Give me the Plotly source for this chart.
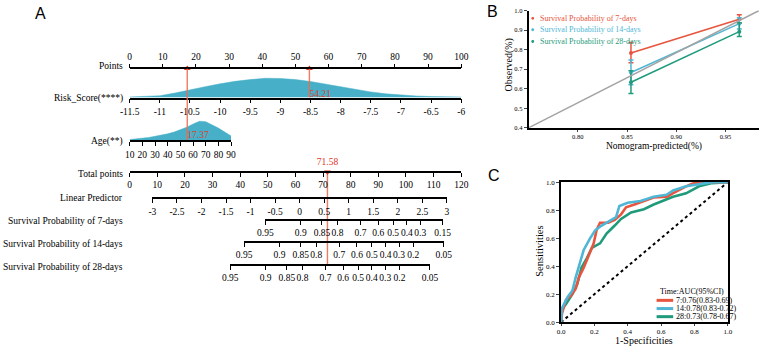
import numpy as np
import plotly.graph_objects as go

W, H = 768, 349
def px(x): return x / W
def py(y): return 1 - y / H

SERIF = "Liberation Serif, Times New Roman, serif"
SANS = "Liberation Sans, Arial, sans-serif"

# ---------------- Panel A: nomogram data ----------------
points_ticks = list(range(0, 101, 10))
risk_ticks = [-11.5, -11, -10.5, -10, -9.5, -9, -8.5, -8, -7.5, -7, -6.5, -6]
risk_grid = [-11.5, -11.25, -11, -10.75, -10.5, -10.25, -10, -9.75, -9.5, -9.25, -9,
             -8.75, -8.5, -8.25, -8, -7.75, -7.5, -7.25, -7, -6.75, -6.5, -6.25, -6]
risk_density = [0.03, 0.05, 0.09, 0.23, 0.41, 0.56, 0.71, 0.84, 0.93, 1.0, 0.99,
                0.93, 0.83, 0.69, 0.54, 0.41, 0.29, 0.19, 0.12, 0.08, 0.05, 0.035, 0.025]
age_ticks = list(range(10, 91, 10))
age_max_points = 30.59          # points given to age 90
age_grid = list(range(10, 91, 5))
age_density = [0.04, 0.07, 0.11, 0.15, 0.21, 0.27, 0.34, 0.43, 0.55, 0.69, 0.85,
               1.0, 0.98, 0.83, 0.64, 0.43, 0.23]
total_ticks = list(range(0, 121, 10))
lp_ticks = [-3, -2.5, -2, -1.5, -1, -0.5, 0, 0.5, 1, 1.5, 2, 2.5, 3]
surv_labels_7 = [0.95, 0.9, 0.85, 0.8, 0.7, 0.6, 0.5, 0.4, 0.3, 0.15]
surv_labels_14 = [0.95, 0.9, 0.85, 0.8, 0.7, 0.6, 0.5, 0.4, 0.3, 0.2, 0.05]
surv_labels_28 = [0.95, 0.9, 0.85, 0.8, 0.7, 0.6, 0.5, 0.4, 0.3, 0.2, 0.05]
base_surv = [0.902, 0.853, 0.810]   # baseline survival at 7, 14, 28 days
pt_age = 17.37
pt_risk = 54.21
pt_total = 71.58

# ---------------- Panel B: calibration data ----------------
cal_x = [0.854, 0.964]
cal7_y = [0.783, 0.955];  cal7_hi = [0.837, 0.978];  cal7_lo = [0.733, 0.935]
cal14_y = [0.683, 0.933]; cal14_hi = [0.747, 0.963]; cal14_lo = [0.620, 0.905]
cal28_y = [0.633, 0.892]; cal28_hi = [0.692, 0.937]; cal28_lo = [0.575, 0.867]
ref_x = [0.75, 0.984]
ref_y = [0.40, 1.00]

# ---------------- Panel C: ROC data ----------------
roc7_x = [0, 0.006, 0.03, 0.06, 0.088, 0.107, 0.136, 0.166, 0.195, 0.214, 0.234, 0.283,
          0.322, 0.36, 0.39, 0.44, 0.50, 0.555, 0.635, 0.67, 0.75, 0.79, 0.87, 1.0]
roc7_y = [0, 0.063, 0.16, 0.19, 0.24, 0.32, 0.39, 0.48, 0.56, 0.66, 0.71, 0.71,
          0.73, 0.77, 0.82, 0.84, 0.865, 0.89, 0.895, 0.92, 0.97, 0.99, 1.0, 1.0]
roc14_x = [0, 0.006, 0.04, 0.068, 0.088, 0.117, 0.136, 0.175, 0.205, 0.244, 0.28, 0.33,
           0.35, 0.40, 0.477, 0.555, 0.633, 0.672, 0.75, 0.867, 0.906, 1.0]
roc14_y = [0, 0.10, 0.18, 0.225, 0.32, 0.435, 0.516, 0.60, 0.656, 0.69, 0.714, 0.75,
           0.83, 0.853, 0.865, 0.895, 0.91, 0.94, 0.97, 0.993, 1.0, 1.0]
roc28_x = [0, 0.002, 0.03, 0.068, 0.097, 0.123, 0.156, 0.185, 0.234, 0.273, 0.322, 0.36,
           0.42, 0.497, 0.556, 0.604, 0.672, 0.75, 0.828, 0.906, 1.0]
roc28_y = [0, 0.086, 0.13, 0.20, 0.27, 0.39, 0.46, 0.53, 0.563, 0.633, 0.69, 0.737,
           0.784, 0.807, 0.84, 0.865, 0.895, 0.92, 0.97, 0.993, 1.0]
roc_legend = ["7:0.76(0.83-0.69)", "14:0.78(0.83-0.72)", "28:0.73(0.78-0.67)"]

RED = "#e8553e"
BLUE = "#4fb6d6"
GREEN = "#1f9b7c"
FILL = "#47b0c8"
NOMO_RED = "rgba(236,110,80,0.9)"
MARK_RED = "#e0352a"

fig = go.Figure()

# pixel layout of nomogram
X0, X1 = 122.7, 462.7
AGE_X1 = X0 + (X1 - X0) * age_max_points / 100
risk_top = 1.0 / (19.7 / 29.7)   # risk row y-range top
age_top = 1.0 / (19.5 / 73.5)
risk_val = risk_ticks[0] + (risk_ticks[-1] - risk_ticks[0]) * pt_risk / 100
age_val = age_ticks[0] + (age_ticks[-1] - age_ticks[0]) * pt_age / age_max_points

axfont = dict(family=SERIF, size=9.5, color="black")
common_x = dict(showline=True, linecolor="black", linewidth=1.8, ticks="outside",
                ticklen=4, tickwidth=1.3, tickcolor="black", showgrid=False,
                zeroline=False, tickfont=axfont, fixedrange=True, tickangle=0)
hid_y = dict(visible=False, showgrid=False, zeroline=False, fixedrange=True)

# triangles on the points axis
fig.add_trace(go.Scatter(x=[pt_age, pt_risk], y=[risk_top, risk_top], xaxis="x", yaxis="y",
                         mode="markers", marker=dict(symbol="triangle-up", size=6, color=MARK_RED),
                         cliponaxis=False, hoverinfo="skip", showlegend=False))
# risk density + line + label
fig.add_trace(go.Scatter(x=risk_grid, y=risk_density, xaxis="x2", yaxis="y",
                         fill="tozeroy", fillcolor=FILL, line=dict(color=FILL, width=0.5),
                         mode="lines", hoverinfo="skip", showlegend=False))
fig.add_trace(go.Scatter(x=[risk_val, risk_val], y=[0, risk_top], xaxis="x2", yaxis="y",
                         mode="lines", line=dict(color=NOMO_RED, width=1.4),
                         hoverinfo="skip", showlegend=False))
fig.add_trace(go.Scatter(x=[risk_val], y=[0.15], xaxis="x2", yaxis="y", mode="text",
                         text=[f"{pt_risk:.2f}"], textposition="middle right",
                         textfont=dict(family=SERIF, size=9.5, color="#d9432f"),
                         cliponaxis=False, hoverinfo="skip", showlegend=False))
# age density + line + label
fig.add_trace(go.Scatter(x=age_grid, y=age_density, xaxis="x3", yaxis="y2",
                         fill="tozeroy", fillcolor=FILL, line=dict(color=FILL, width=0.5),
                         mode="lines", hoverinfo="skip", showlegend=False))
fig.add_trace(go.Scatter(x=[age_val, age_val], y=[0, age_top], xaxis="x3", yaxis="y2",
                         mode="lines", line=dict(color=NOMO_RED, width=1.4),
                         hoverinfo="skip", showlegend=False))
fig.add_trace(go.Scatter(x=[age_val], y=[0.22], xaxis="x3", yaxis="y2", mode="text",
                         text=[f"{pt_age:.2f}"], textposition="middle right",
                         textfont=dict(family=SERIF, size=9.5, color="#d9432f"),
                         cliponaxis=False, hoverinfo="skip", showlegend=False))
# total points
fig.add_trace(go.Scatter(x=[pt_total, pt_total], y=[0, 1], xaxis="x4", yaxis="y3",
                         mode="lines", line=dict(color=NOMO_RED, width=1.4),
                         hoverinfo="skip", showlegend=False))
fig.add_trace(go.Scatter(x=[pt_total], y=[1], xaxis="x4", yaxis="y3", mode="markers+text",
                         marker=dict(symbol="triangle-down", size=6, color=MARK_RED),
                         text=[f"{pt_total:.2f}"], textposition="top center",
                         textfont=dict(family=SERIF, size=9.5, color=MARK_RED),
                         cliponaxis=False, hoverinfo="skip", showlegend=False))

# survival axes: positions via Cox transform lp = log(-log S) - log(-log S0)
lp_px0, lp_px1 = 146.0, 448.0
def lp_of(p, s0):
    return float(np.log(-np.log(p)) - np.log(-np.log(s0)))
def lp_to_px(v):
    return lp_px0 + (v - lp_ticks[0]) / (lp_ticks[-1] - lp_ticks[0]) * (lp_px1 - lp_px0)

surv_sets = [surv_labels_7, surv_labels_14, surv_labels_28]
surv_rows = [221.0, 243.5, 267.0]
for k, (labs, s0, row) in enumerate(zip(surv_sets, base_surv, surv_rows)):
    vals = [lp_of(p, s0) for p in labs]
    lo, hi = min(vals), max(vals)
    ax = dict(common_x, domain=[px(lp_to_px(lo)), px(lp_to_px(hi))], range=[lo, hi],
              anchor="free", position=py(row), tickvals=vals,
              ticktext=[f"{p:g}" for p in labs])
    fig.layout[f"xaxis{6 + k}"] = ax
    fig.add_trace(go.Scatter(x=[lo], y=[0], xaxis=f"x{6 + k}", yaxis="y3", mode="markers",
                             marker=dict(opacity=0), hoverinfo="skip", showlegend=False))
fig.add_trace(go.Scatter(x=[lp_ticks[0]], y=[0], xaxis="x5", yaxis="y3", mode="markers",
                         marker=dict(opacity=0), hoverinfo="skip", showlegend=False))

fig.update_layout(
    xaxis=dict(common_x, domain=[px(X0), px(X1)], range=[0, 100], anchor="free",
               position=py(66), side="top", tickvals=points_ticks),
    xaxis2=dict(common_x, domain=[px(X0), px(X1)], range=[risk_ticks[0], risk_ticks[-1]],
                anchor="y", tickvals=risk_ticks, ticktext=[f"{v:g}" for v in risk_ticks]),
    xaxis3=dict(common_x, domain=[px(X0), px(AGE_X1)], range=[age_ticks[0], age_ticks[-1]],
                anchor="y2", tickvals=age_ticks),
    xaxis4=dict(common_x, domain=[px(X0), px(X1)], range=[0, 120], anchor="free",
                position=py(172), tickvals=total_ticks),
    xaxis5=dict(common_x, domain=[px(lp_px0), px(lp_px1)], range=[lp_ticks[0], lp_ticks[-1]],
                anchor="free", position=py(199), tickvals=lp_ticks,
                ticktext=[f"{v:g}" for v in lp_ticks]),
    yaxis=dict(hid_y, domain=[py(95.7), py(66)], range=[0, risk_top], anchor="x2"),
    yaxis2=dict(hid_y, domain=[py(139.5), py(66)], range=[0, age_top], anchor="x3"),
    yaxis3=dict(hid_y, domain=[py(267), py(172)], range=[0, 1], anchor="x4"),
)

def ann(text, x, y, xa="center", ya="middle", size=9.5, color="black", family=SERIF, angle=0):
    return dict(text=text, x=px(x), y=py(y), xref="paper", yref="paper",
                xanchor=xa, yanchor=ya, showarrow=False, textangle=angle,
                font=dict(family=family, size=size, color=color))

# left labels
row_labels = [("Points", 63), ("Risk_Score(****)", 97), ("Age(**)", 140.5),
              ("Total points", 173.5), ("Linear Predictor", 198.5),
              ("Survival Probability of 7-days", 222.5),
              ("Survival Probability of 14-days", 245.5),
              ("Survival Probability of 28-days", 269)]
annotations = [ann(t, 118, yy, xa="right") for t, yy in row_labels]

# ---------------- Panel B ----------------
for yv, hi, lo, col in [(cal7_y, cal7_hi, cal7_lo, RED), (cal14_y, cal14_hi, cal14_lo, BLUE),
                        (cal28_y, cal28_hi, cal28_lo, GREEN)]:
    fig.add_trace(go.Scatter(
        x=cal_x, y=yv, xaxis="x9", yaxis="y4", mode="lines+markers",
        line=dict(color=col, width=1.6), marker=dict(color=col, size=4),
        error_y=dict(type="data", symmetric=False,
                     array=[h - v for h, v in zip(hi, yv)],
                     arrayminus=[v - l for v, l in zip(yv, lo)],
                     color=col, thickness=1.5, width=2.5),
        cliponaxis=False, hoverinfo="skip", showlegend=False))
fig.add_trace(go.Scatter(x=ref_x, y=ref_y, xaxis="x9", yaxis="y4", mode="lines",
                         line=dict(color="#a3a3a3", width=1.5), hoverinfo="skip",
                         showlegend=False))

smallfont = dict(family=SERIF, size=6.5, color="black")
fig.update_layout(
    xaxis9=dict(domain=[px(531.7), 1.0], range=ref_x, anchor="y4", showline=True,
                linecolor="black", linewidth=1.5, ticks="outside", ticklen=2,
                tickvals=[0.80, 0.85, 0.90, 0.95], tickformat=".2f", tickfont=smallfont,
                showgrid=False, zeroline=False, fixedrange=True),
    yaxis4=dict(domain=[py(126.7), py(6.7)], range=[0.4, 1.0], anchor="x9", showline=True,
                linecolor="black", linewidth=1.5, ticks="outside", ticklen=3, dtick=0.1,
                tickformat=".1f", tickfont=smallfont, showgrid=False, zeroline=False,
                fixedrange=True),
)
leg_b = ["Survival Probability of 7-days", "Survival Probability of 14-days",
         "Survival Probability of 28-days"]
shapes = []
for t, col, yy in zip(leg_b, [RED, BLUE, GREEN], [14.7, 26.3, 38.3]):
    shapes.append(dict(type="circle", xref="paper", yref="paper",
                       x0=px(534.5), x1=px(537.5), y0=py(yy + 1.5), y1=py(yy - 1.5),
                       fillcolor=col, line=dict(width=0)))
    annotations.append(ann(t, 541, yy, xa="left", size=8, color=col))
annotations.append(ann("Observed(%)", 511.5, 62, size=10, angle=-90))
annotations.append(ann("Nomogram-predicted(%)", 660, 145.5, size=9.5))

# ---------------- Panel C ----------------
fig.add_trace(go.Scatter(x=[0, 1], y=[0, 1], xaxis="x10", yaxis="y5", mode="lines",
                         line=dict(color="black", width=2, dash="dot"), hoverinfo="skip",
                         showlegend=False))
for xs, ys, col in [(roc28_x, roc28_y, GREEN), (roc7_x, roc7_y, RED), (roc14_x, roc14_y, BLUE)]:
    fig.add_trace(go.Scatter(x=xs, y=ys, xaxis="x10", yaxis="y5", mode="lines",
                             line=dict(color=col, width=2.6), hoverinfo="skip",
                             showlegend=False))
cfont = dict(family=SERIF, size=7, color="black")
fig.update_layout(
    xaxis10=dict(domain=[px(565), px(736)], range=[0, 1], anchor="y5", showline=True,
                 mirror=True, linecolor="black", linewidth=1.5, ticks="outside", ticklen=2,
                 dtick=0.2, tickformat=".1f", tickfont=cfont, showgrid=False,
                 zeroline=False, fixedrange=True),
    yaxis5=dict(domain=[py(325.7), py(182.3)], range=[0, 1], anchor="x10", showline=True,
                mirror=True, linecolor="black", linewidth=1.5, ticks="outside", ticklen=3,
                dtick=0.2, tickformat=".1f", tickfont=cfont, showgrid=False,
                zeroline=False, fixedrange=True),
)
annotations.append(ann("Time:AUC(95%CI)", 734, 294, xa="right", size=8))
for t, col, yy in zip(roc_legend, [RED, BLUE, GREEN], [303.3, 311.7, 320]):
    shapes.append(dict(type="line", xref="paper", yref="paper", x0=px(663), x1=px(680),
                       y0=py(yy), y1=py(yy), line=dict(color=col, width=3)))
    annotations.append(ann(t, 680.5, yy, xa="left", size=8))
annotations.append(ann("Sensitivities", 543, 253, size=10.5, angle=-90))
annotations.append(ann("1-Specificities", 650, 344.5, size=10))

# panel letters
for t, xx, yy in [("A", 31, 10), ("B", 495, 7.5), ("C", 496, 175.5)]:
    annotations.append(ann(t, xx, yy, size=16, family=SANS))

fig.update_layout(width=W, height=H, margin=dict(l=0, r=0, t=0, b=0),
                  paper_bgcolor="white", plot_bgcolor="rgba(0,0,0,0)",
                  annotations=annotations, shapes=shapes, showlegend=False)
fig.write_html("out.html")
